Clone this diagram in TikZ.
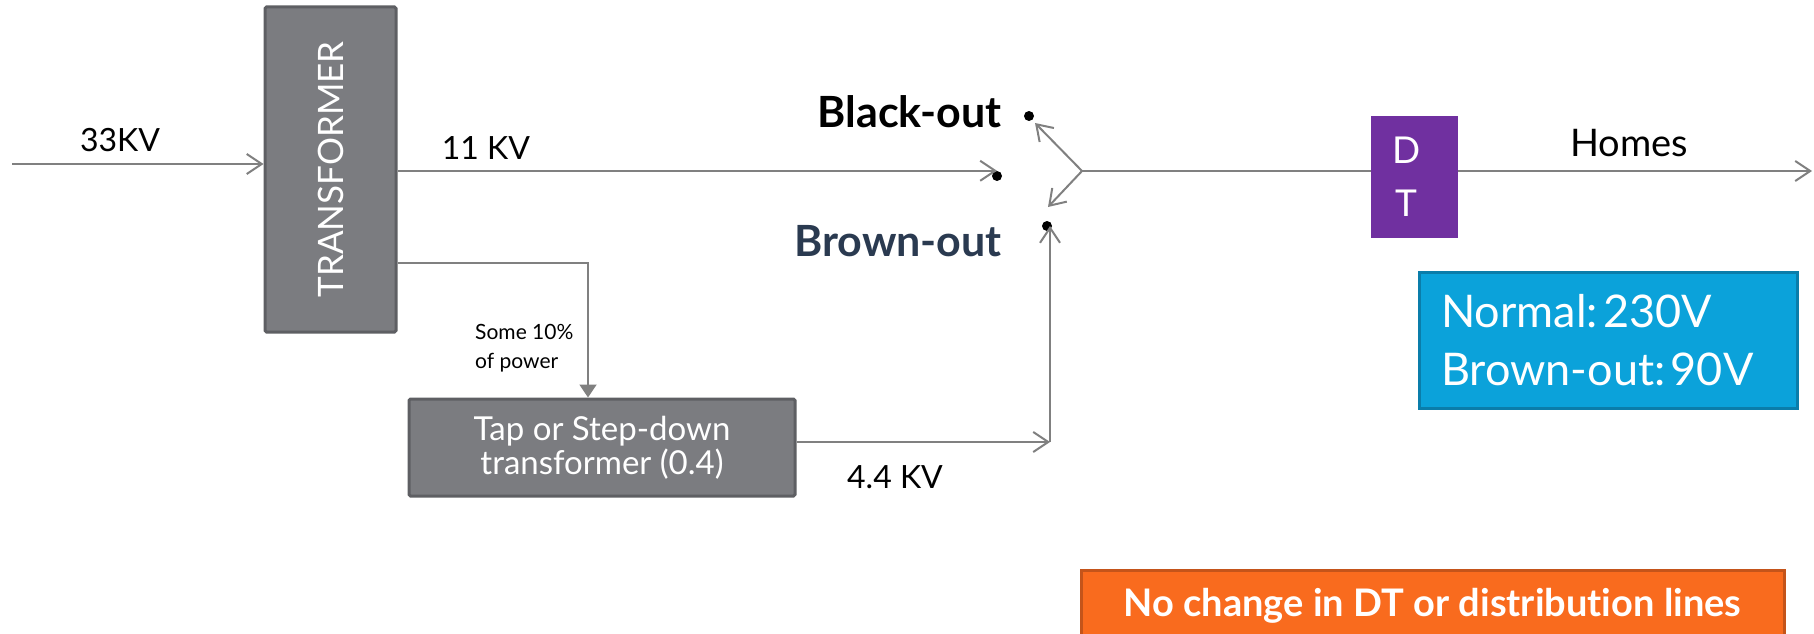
\documentclass[tikz,border=0pt]{standalone}
\usepackage{fontspec}
\setmainfont{Lato}[Ligatures=NoCommon]
\usetikzlibrary{arrows.meta}
\definecolor{boxgray}{HTML}{7B7C80}
\definecolor{boxedge}{HTML}{5E5F63}
\definecolor{linegray}{HTML}{808080}
\definecolor{dtpurple}{HTML}{7030A0}
\definecolor{bluefill}{HTML}{0BA2DA}
\definecolor{blueedge}{HTML}{0A7DAA}
\definecolor{orangefill}{HTML}{F96B1E}
\definecolor{orangeedge}{HTML}{C4541A}
\definecolor{navytext}{HTML}{2A3A50}
\begin{document}
\begin{tikzpicture}[x=1pt,y=-1pt,
  graybox/.style={draw=boxedge, fill=boxgray, line width=3pt, rounded corners=1.5pt, text=white, inner sep=0pt, align=center},
  wire/.style={draw=linegray, line width=2pt},
  arr/.style={wire, -{Straight Barb[length=15pt,width=20pt,line width=2pt]}},
  triarr/.style={wire, -{Triangle[length=13pt,width=17pt]}},
  dotnode/.style={circle, fill=black, inner sep=0pt, minimum size=10pt},
  lbl/.style={inner sep=0pt, text=black}]
\path[use as bounding box] (0,0) rectangle (1814,634);
\clip (0,0) rectangle (1814,634);

% boxes
\node[graybox, minimum width=131pt, minimum height=325pt] (trans) at (330.5,169.5)
  {\rotatebox{90}{\fontsize{35}{40}\selectfont TRANSFORMER}};
\node[graybox, minimum width=386pt, minimum height=97pt, font=\fontsize{33}{34}\selectfont] (tap) at (602,447.5)
  {Tap or Step-down\\transformer (0.4)};
\node[fill=dtpurple, minimum width=87pt, minimum height=122pt, inner sep=0pt] (dt) at (1414.5,177) {};
\node[inner sep=0pt, text=white, align=center, font=\fontsize{37}{53}\selectfont] (dttext) at ([xshift=-8pt]dt.center) {D\\T};
\node[draw=blueedge, fill=bluefill, line width=3pt, minimum width=378pt, minimum height=136pt,
  inner xsep=22pt, text width=334pt, align=left, text=white, font=\fontsize{45}{58}\selectfont] (blue) at (1608,340)
  {Normal:\hspace{0.12em}230V\\Brown-out:\hspace{0.12em}90V};
\node[draw=orangeedge, fill=orangefill, line width=3pt, minimum width=703pt, minimum height=70pt, anchor=north,
  text=white, font=\bfseries\fontsize{38}{42}\selectfont] (note) at (1432.5,569)
  {No change in DT or distribution lines};

% dots and switch
\node[dotnode] (dblack) at (1029,116) {};
\node[dotnode] (d11) at (997,176) {};
\node[dotnode] (dbrown) at (1047,226) {};
\coordinate (sw) at (1082,171);
\coordinate (swup) at (1035,123);
\coordinate (swdn) at (1048,207);
\coordinate (inp) at (12,164);
\coordinate (bend) at (588,263);
\coordinate (corner) at (1050,442);
\coordinate (hend) at (1812,171);

% connectors
\draw[arr] (inp) -- (inp -| trans.west);
\draw[arr] (trans.east |- d11.north) -- (d11.north);
\draw[triarr] (trans.east |- bend) -- (bend) -- (bend |- tap.north);
\draw[arr] (tap.east |- corner) -- (corner);
\draw[arr] (corner) -- (corner |- dbrown.center);
\draw[arr] (sw) -- (swup);
\draw[arr] (sw) -- (swdn);
\draw[wire] (sw) -- (sw -| dt.west);
\draw[arr] (dt.east |- sw) -- (hend);

% labels
\node[lbl, font=\fontsize{32}{38}\selectfont] (l33) at (120,140) {33KV};
\node[lbl, font=\fontsize{32}{38}\selectfont] (l11) at (486,148) {11 KV};
\node[lbl, anchor=east, font=\bfseries\fontsize{43}{48}\selectfont] (lblack) at (1002,112) {Black-out};
\node[lbl, anchor=east, text=navytext, font=\bfseries\fontsize{43}{48}\selectfont] (lbrown) at (1002,241) {Brown-out};
\node[lbl, anchor=west, align=left, font=\fontsize{21}{29}\selectfont] (lsome) at (475,348) {Some 10\%\\of power};
\node[lbl, font=\fontsize{32}{38}\selectfont] (l44) at (895,477) {4.4 KV};
\node[lbl, font=\fontsize{38}{44}\selectfont] (lhomes) at (1629,143) {Homes};
\end{tikzpicture}
\end{document}
